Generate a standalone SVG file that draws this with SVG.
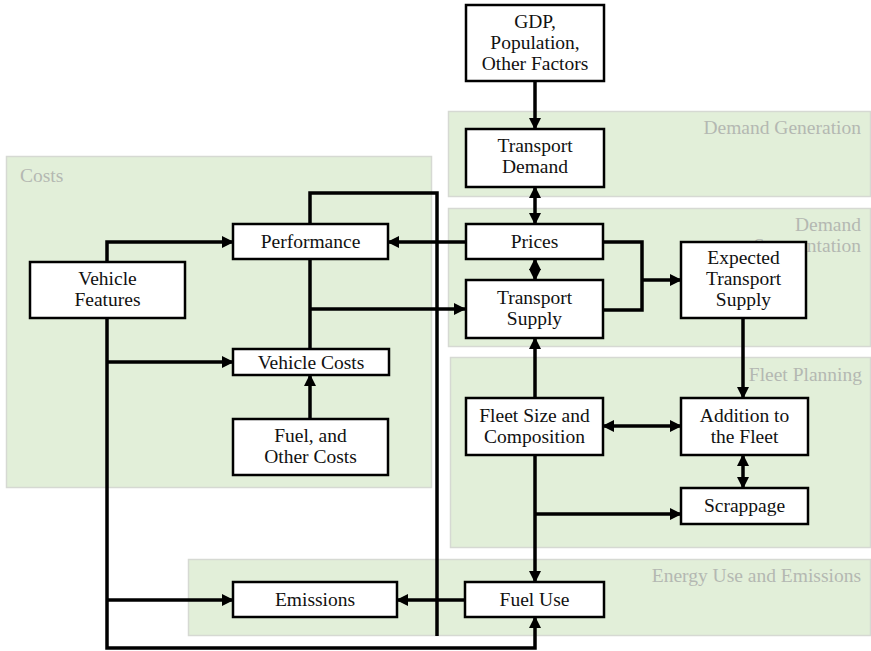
<svg xmlns="http://www.w3.org/2000/svg" width="871" height="651" viewBox="0 0 871 651">
  <defs>
    <marker id="arrow" viewBox="0 0 12 12" refX="11" refY="6" markerWidth="12" markerHeight="12" markerUnits="userSpaceOnUse" orient="auto-start-reverse">
      <path d="M0,0 L12,6 L0,12 z" fill="#000"/>
    </marker>
    <style>
      .panel { fill: #e2efd9; stroke: #d6d9d3; stroke-width: 1.5; }
      .plabel { font-family: "Liberation Serif", "Times New Roman", serif; font-size: 19.5px; fill: #b4b8b2; }
      .box { fill: #fff; stroke: #000; stroke-width: 2.5; }
      .txt { font-family: "Liberation Serif", "Times New Roman", serif; font-size: 19.5px; fill: #111; text-anchor: middle; }
      .wire { fill: none; stroke: #000; stroke-width: 3.5; }
      .arr { marker-end: url(#arrow); }
      .arr2 { marker-start: url(#arrow); marker-end: url(#arrow); }
    </style>
  </defs>

  <rect width="871" height="651" fill="#fff"/>

  <!-- background areas -->
  <g id="areas">
    <rect class="panel" x="6.5" y="156.5" width="425" height="331"/>
    <text class="plabel" x="20" y="182">Costs</text>
    <rect class="panel" x="448.5" y="111.5" width="422" height="85"/>
    <text class="plabel" x="861" y="134" text-anchor="end">Demand Generation</text>
    <rect class="panel" x="448.5" y="208.5" width="422" height="138"/>
    <text class="plabel" x="861" y="231" text-anchor="end">Demand</text>
    <text class="plabel" x="861" y="252" text-anchor="end">Segmentation</text>
    <rect class="panel" x="450.5" y="357.5" width="420" height="190"/>
    <text class="plabel" x="862" y="381" text-anchor="end">Fleet Planning</text>
    <rect class="panel" x="188.5" y="559.5" width="682" height="76"/>
    <text class="plabel" x="861" y="582" text-anchor="end">Energy Use and Emissions</text>
  </g>

  <!-- connectors -->
  <g id="connectors">
    <line class="wire arr" x1="535" y1="82" x2="535" y2="129"/>
    <line class="wire arr2" x1="535" y1="187" x2="535" y2="224"/>
    <line class="wire arr2" x1="535" y1="259" x2="535" y2="280"/>
    <polyline class="wire" points="603,242 642,242 642,310 603,310"/>
    <line class="wire arr" x1="642" y1="280" x2="681" y2="280"/>
    <line class="wire arr" x1="465" y1="242" x2="388" y2="242"/>
    <polyline class="wire" points="310,224 310,193 437,193 437,636"/>
    <polyline class="wire" points="310,259 310,349"/>
    <line class="wire arr" x1="310" y1="309" x2="465" y2="309"/>
    <polyline class="wire arr" points="107,262 107,242 233,242"/>
    <polyline class="wire arr" points="107,318 107,648 535,648 535,617"/>
    <line class="wire arr" x1="107" y1="362" x2="233" y2="362"/>
    <line class="wire arr" x1="107" y1="600" x2="233" y2="600"/>
    <line class="wire arr" x1="310" y1="419" x2="310" y2="375"/>
    <line class="wire arr" x1="535" y1="398" x2="535" y2="338"/>
    <line class="wire arr" x1="743" y1="318" x2="743" y2="398"/>
    <line class="wire arr2" x1="603" y1="426" x2="681" y2="426"/>
    <line class="wire arr2" x1="743" y1="455" x2="743" y2="488"/>
    <line class="wire arr" x1="535" y1="455" x2="535" y2="582"/>
    <line class="wire arr" x1="535" y1="514" x2="681" y2="514"/>
    <line class="wire arr" x1="465" y1="600" x2="397" y2="600"/>
  </g>

  <!-- nodes -->
  <g id="gdp">
    <rect class="box" x="466" y="5" width="138" height="76"/>
    <text class="txt" x="535" y="28">GDP,</text>
    <text class="txt" x="535" y="49">Population,</text>
    <text class="txt" x="535" y="70">Other Factors</text>
  </g>
  <g id="transport-demand">
    <rect class="box" x="466" y="129" width="138" height="58"/>
    <text class="txt" x="535" y="152">Transport</text>
    <text class="txt" x="535" y="173">Demand</text>
  </g>
  <g id="prices">
    <rect class="box" x="466" y="224" width="137" height="35"/>
    <text class="txt" x="534.5" y="248">Prices</text>
  </g>
  <g id="transport-supply">
    <rect class="box" x="466" y="280" width="137" height="58"/>
    <text class="txt" x="534.5" y="304">Transport</text>
    <text class="txt" x="534.5" y="325">Supply</text>
  </g>
  <g id="expected-transport-supply">
    <rect class="box" x="681" y="242" width="125" height="76"/>
    <text class="txt" x="743.5" y="264">Expected</text>
    <text class="txt" x="743.5" y="285">Transport</text>
    <text class="txt" x="743.5" y="306">Supply</text>
  </g>
  <g id="performance">
    <rect class="box" x="233" y="224" width="155" height="35"/>
    <text class="txt" x="310.5" y="248">Performance</text>
  </g>
  <g id="vehicle-features">
    <rect class="box" x="30" y="262" width="155" height="56"/>
    <text class="txt" x="107.5" y="285">Vehicle</text>
    <text class="txt" x="107.5" y="306">Features</text>
  </g>
  <g id="vehicle-costs">
    <rect class="box" x="233" y="349" width="156" height="26"/>
    <text class="txt" x="311" y="369">Vehicle Costs</text>
  </g>
  <g id="fuel-other-costs">
    <rect class="box" x="233" y="419" width="155" height="56"/>
    <text class="txt" x="310.5" y="442">Fuel, and</text>
    <text class="txt" x="310.5" y="463">Other Costs</text>
  </g>
  <g id="fleet-size">
    <rect class="box" x="466" y="398" width="137" height="57"/>
    <text class="txt" x="534.5" y="422">Fleet Size and</text>
    <text class="txt" x="534.5" y="443">Composition</text>
  </g>
  <g id="addition-fleet">
    <rect class="box" x="681" y="398" width="127" height="57"/>
    <text class="txt" x="744.5" y="422">Addition to</text>
    <text class="txt" x="744.5" y="443">the Fleet</text>
  </g>
  <g id="scrappage">
    <rect class="box" x="681" y="488" width="127" height="36"/>
    <text class="txt" x="744.5" y="512">Scrappage</text>
  </g>
  <g id="emissions">
    <rect class="box" x="233" y="582" width="164" height="35"/>
    <text class="txt" x="315" y="606">Emissions</text>
  </g>
  <g id="fuel-use">
    <rect class="box" x="465" y="582" width="139" height="35"/>
    <text class="txt" x="534.5" y="606">Fuel Use</text>
  </g>
</svg>
